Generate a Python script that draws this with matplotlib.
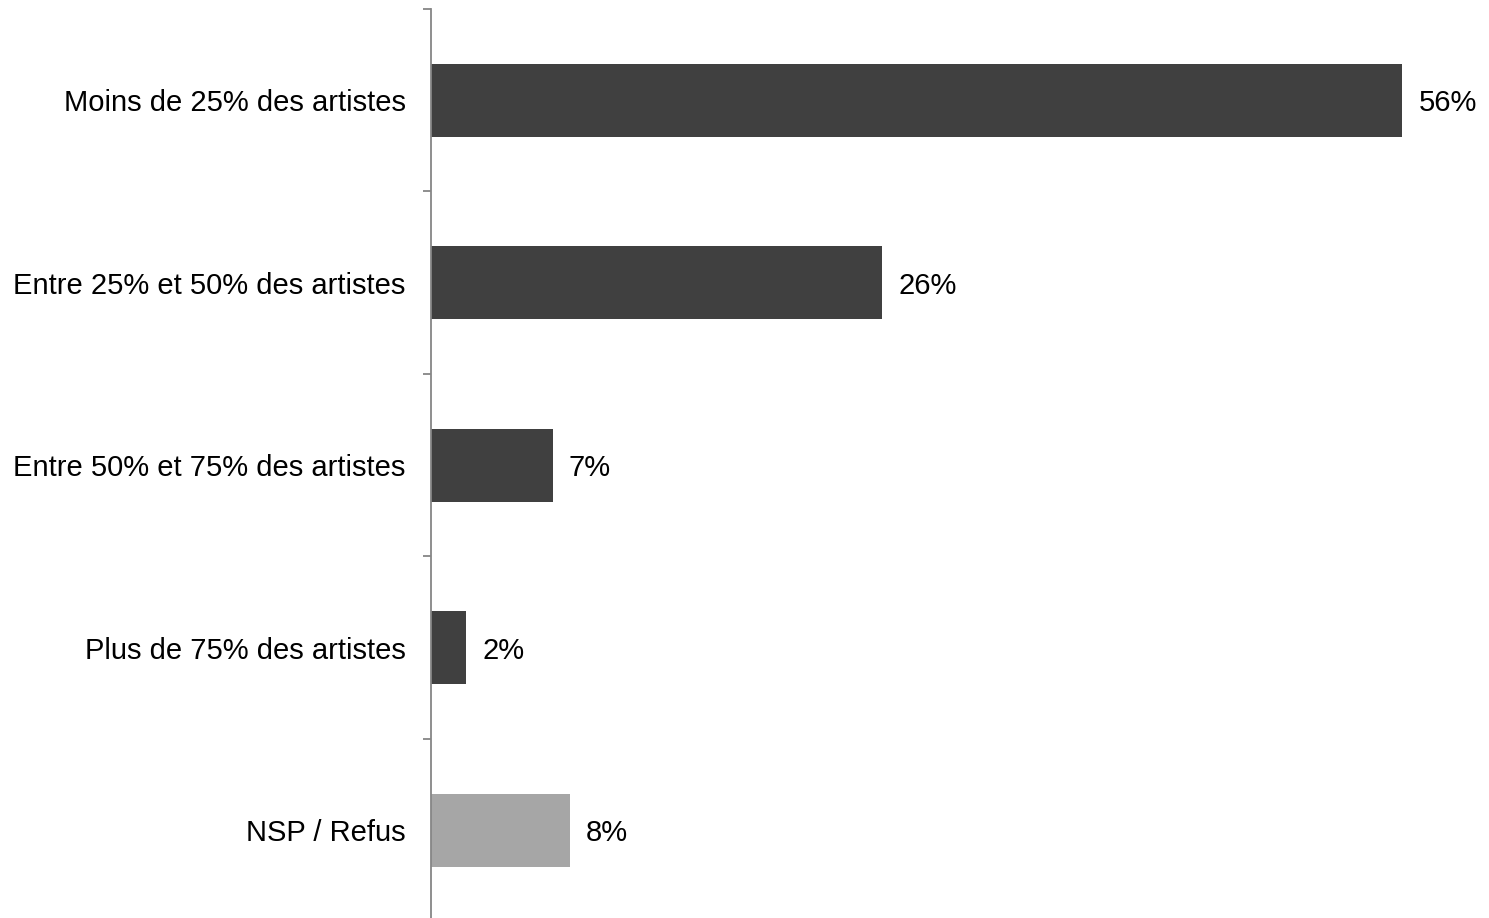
import matplotlib
matplotlib.use("Agg")
import matplotlib.pyplot as plt
import numpy as np

categories = [
    "Moins de 25% des artistes",
    "Entre 25% et 50% des artistes",
    "Entre 50% et 75% des artistes",
    "Plus de 75% des artistes",
    "NSP / Refus",
]
values = [56, 26, 7, 2, 8]
colors = ["#404040", "#404040", "#404040", "#404040", "#A6A6A6"]

plt.rcParams["font.family"] = ["Liberation Sans", "DejaVu Sans"]

W, H = 1489, 918
fig = plt.figure(figsize=(W / 100, H / 100), dpi=100)
ax = fig.add_axes([431.5 / W, -3.5 / H, 1 - 431.5 / W, (H - 8.75 + 3.5) / H])

y = np.arange(len(categories))
ax.barh(y, values, height=0.40, color=colors)

ax.set_ylim(len(categories) - 0.5, -0.5)
ax.set_xlim(0, 61.0)

for yi, v in zip(y, values):
    ax.annotate(f"{v}%", xy=(v, yi), xytext=(11.5, 0), textcoords="offset points",
                ha="left", va="center_baseline", fontsize=21, color="black")

for side in ["top", "right", "bottom"]:
    ax.spines[side].set_visible(False)
ax.spines["left"].set_color("#868686")
ax.spines["left"].set_linewidth(1.3)

ax.set_xticks([])
ax.set_yticks(y)
ax.set_yticklabels(categories, fontsize=21, va="center_baseline")
ax.tick_params(axis="y", which="major", length=0, pad=18.5)
ax.set_yticks(np.arange(-0.5, len(categories), 1.0), minor=True)
ax.tick_params(axis="y", which="minor", length=6, width=1.3, color="#868686")

fig.savefig("out.png", dpi=100)
